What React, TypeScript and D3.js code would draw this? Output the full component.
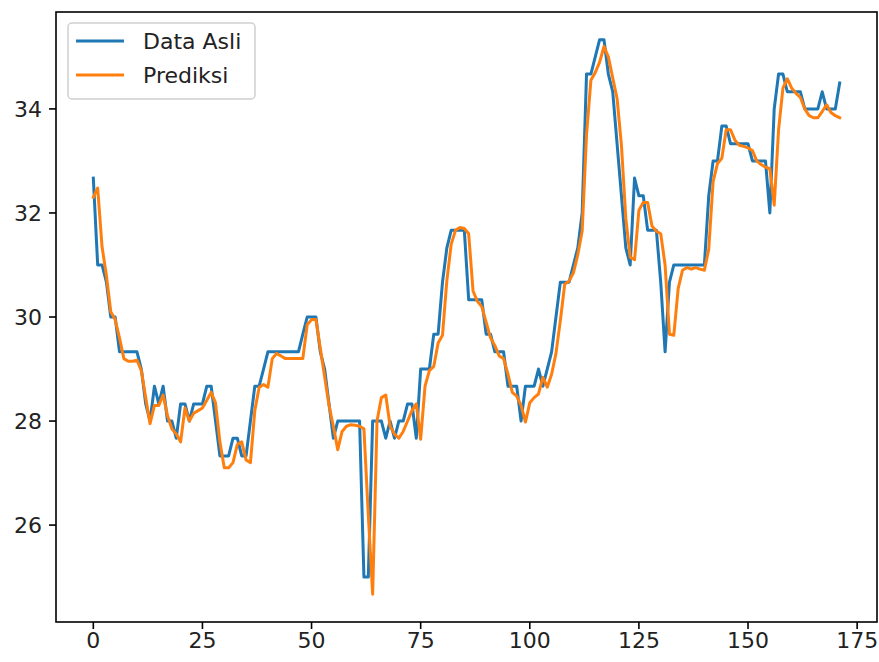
import React from "react";
import * as d3 from "d3";

// values
const dataAsli = [
  32.67, 31.0, 31.0, 30.67, 30.0, 30.0, 29.33, 29.33, 29.33, 29.33,
  29.33, 29.0, 28.33, 28.0, 28.67, 28.33, 28.67, 28.0, 28.0, 27.67,
  28.33, 28.33, 28.0, 28.33, 28.33, 28.33, 28.67, 28.67, 28.0, 27.33,
  27.33, 27.33, 27.67, 27.67, 27.33, 27.33, 28.0, 28.67, 28.67, 29.0,
  29.33, 29.33, 29.33, 29.33, 29.33, 29.33, 29.33, 29.33, 29.67, 30.0,
  30.0, 30.0, 29.33, 29.0, 28.33, 27.67, 28.0, 28.0, 28.0, 28.0,
  28.0, 28.0, 25.0, 25.0, 28.0, 28.0, 28.0, 27.67, 28.0, 27.67,
  28.0, 28.0, 28.33, 28.33, 27.67, 29.0, 29.0, 29.0, 29.67, 29.67,
  30.67, 31.33, 31.67, 31.67, 31.67, 31.67, 30.33, 30.33, 30.33, 30.33,
  29.67, 29.67, 29.33, 29.33, 29.33, 28.67, 28.67, 28.67, 28.0, 28.67,
  28.67, 28.67, 29.0, 28.67, 29.0, 29.33, 30.0, 30.67, 30.67, 30.67,
  31.0, 31.33, 32.0, 34.67, 34.67, 35.0, 35.33, 35.33, 34.67, 34.33,
  33.33, 32.33, 31.33, 31.0, 32.67, 32.33, 32.33, 31.67, 31.67, 31.67,
  30.67, 29.33, 30.67, 31.0, 31.0, 31.0, 31.0, 31.0, 31.0, 31.0,
  31.0, 32.33, 33.0, 33.0, 33.67, 33.67, 33.33, 33.33, 33.33, 33.33,
  33.33, 33.0, 33.0, 33.0, 33.0, 32.0, 34.0, 34.67, 34.67, 34.33,
  34.33, 34.33, 34.33, 34.0, 34.0, 34.0, 34.0, 34.33, 34.0, 34.0,
  34.0, 34.5,
];

const prediksi = [
  32.3, 32.48, 31.35, 30.8, 30.1, 29.95, 29.6, 29.2, 29.15, 29.15,
  29.17, 28.97, 28.45, 27.95, 28.3, 28.3, 28.5, 28.1, 27.85, 27.75,
  27.6, 28.25, 28.0, 28.15, 28.2, 28.25, 28.4, 28.55, 28.35, 27.6,
  27.1, 27.1, 27.2, 27.55, 27.6, 27.25, 27.2, 28.2, 28.65, 28.7,
  28.65, 29.2, 29.3, 29.25, 29.2, 29.2, 29.2, 29.2, 29.2, 29.85,
  29.95, 29.95, 29.4, 28.85, 28.3, 27.9, 27.45, 27.8, 27.9, 27.93,
  27.92, 27.9, 27.85, 26.2, 24.67, 28.0, 28.45, 28.5, 27.9, 27.75,
  27.67, 27.8, 28.0, 28.2, 28.33, 27.65, 28.67, 28.97, 29.05, 29.5,
  29.65, 30.7, 31.4, 31.67, 31.72, 31.7, 31.6, 30.5, 30.3, 30.2,
  29.9, 29.6, 29.45, 29.25, 29.2, 28.9, 28.55, 28.48, 28.3, 27.98,
  28.35, 28.45, 28.52, 28.84, 28.65, 28.9, 29.3, 29.93, 30.63, 30.69,
  30.85, 31.2, 31.65, 33.5, 34.55, 34.7, 34.9, 35.2, 35.0, 34.6,
  34.2, 33.3, 31.9, 31.15, 31.1, 32.05, 32.2, 32.2, 31.75, 31.65,
  31.6, 31.0, 29.67, 29.65, 30.55, 30.9, 30.95, 30.92, 30.95, 30.92,
  30.9, 31.3, 32.6, 32.95, 33.05, 33.6, 33.6, 33.4, 33.3, 33.28,
  33.25, 33.2, 33.0, 32.93, 32.88, 32.85, 32.15, 33.6, 34.4, 34.58,
  34.4, 34.3, 34.22, 34.0, 33.87, 33.83, 33.83, 33.95, 34.08, 33.93,
  33.87, 33.83,
];

const xTicks = [0, 25, 50, 75, 100, 125, 150, 175];
const yTicks = [26, 28, 30, 32, 34];
const seriesNames = ["Data Asli", "Prediksi"];
const colors = ["#1f77b4", "#ff7f0e"];

const W = 879;
const H = 662;
const margin = { left: 56, right: 2, top: 12, bottom: 40 };
const font = "'DejaVu Sans', sans-serif";

export default function App() {
  const n = dataAsli.length;
  // matplotlib style 5% padding
  const xPad = (n - 1) * 0.05;
  const all = dataAsli.concat(prediksi);
  const yMin = d3.min(all);
  const yMax = d3.max(all);
  const yPad = (yMax - yMin) * 0.05;

  const x = d3.scaleLinear()
    .domain([-xPad, n - 1 + xPad])
    .range([margin.left, W - margin.right]);
  const y = d3.scaleLinear()
    .domain([yMin - yPad, yMax + yPad])
    .range([H - margin.bottom, margin.top]);

  const line = d3.line()
    .x((d, i) => x(i))
    .y((d) => y(d));

  const bottom = H - margin.bottom;

  return (
    <div style={{ position: "fixed", left: 0, top: 0 }}>
      <svg width={W} height={H} style={{ display: "block", background: "#fff" }}>
        {[dataAsli, prediksi].map((s, k) => (
          <path key={k} d={line(s)} fill="none" stroke={colors[k]}
            strokeWidth={3} strokeLinejoin="round" strokeLinecap="square" />
        ))}

        {/* axes frame */}
        <rect x={margin.left} y={margin.top} width={W - margin.right - margin.left}
          height={bottom - margin.top} fill="none" stroke="#000" strokeWidth={1.6} />

        {/* x axis */}
        {xTicks.map((t) => (
          <g key={t} transform={`translate(${x(t)},${bottom})`}>
            <line y2={7} stroke="#000" strokeWidth={1.6} />
            <text y={26} textAnchor="middle" fontFamily={font} fontSize={22} fill="#222">{t}</text>
          </g>
        ))}

        {/* y axis */}
        {yTicks.map((t) => (
          <g key={t} transform={`translate(${margin.left},${y(t)})`}>
            <line x2={-7} stroke="#000" strokeWidth={1.6} />
            <text x={-14} dy="0.36em" textAnchor="end" fontFamily={font} fontSize={22} fill="#222">{t}</text>
          </g>
        ))}

        {/* legend */}
        <g>
          <rect x={68} y={23} width={187} height={76} rx={4} fill="#fff" fillOpacity={0.8}
            stroke="#d0d0d0" strokeWidth={1.5} />
          {seriesNames.map((name, k) => (
            <g key={name} transform={`translate(76,${41 + k * 34})`}>
              <line x2={48} stroke={colors[k]} strokeWidth={3} />
              <text x={67} dy="0.36em" fontFamily={font} fontSize={22} fill="#222">{name}</text>
            </g>
          ))}
        </g>
      </svg>
    </div>
  );
}
